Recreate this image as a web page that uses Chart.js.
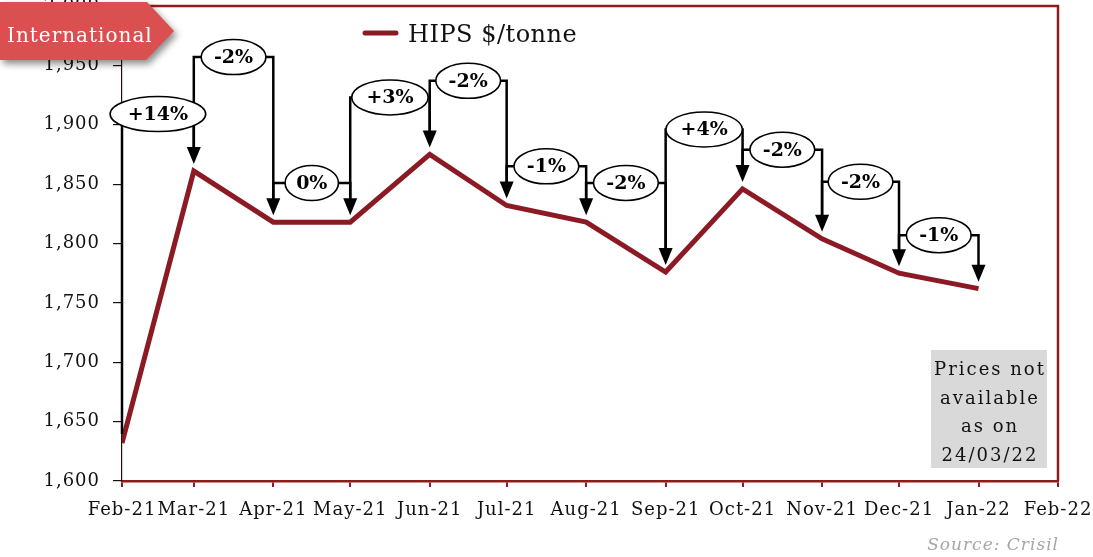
<!DOCTYPE html>
<html>
<head>
<meta charset="utf-8">
<title>HIPS $/tonne</title>
<script src="https://cdn.jsdelivr.net/npm/chart.js@4.4.1/dist/chart.umd.min.js"></script>
<style>
  html, body { margin: 0; padding: 0; background: #ffffff; }
  #c { display: block; }
</style>
</head>
<body>
<canvas id="c" width="1093" height="557"></canvas>
<script>
// ---- data ----
const tickMonths = ['2021-02', '2021-03', '2021-04', '2021-05', '2021-06', '2021-07', '2021-08',
                    '2021-09', '2021-10', '2021-11', '2021-12', '2022-01', '2022-02'];
const tickLabels = ['Feb-21', 'Mar-21', 'Apr-21', 'May-21', 'Jun-21', 'Jul-21', 'Aug-21',
                    'Sep-21', 'Oct-21', 'Nov-21', 'Dec-21', 'Jan-22', 'Feb-22'];
const priceMonths = ['2021-02', '2021-03', '2021-04', '2021-05', '2021-06', '2021-07',
                     '2021-08', '2021-09', '2021-10', '2021-11', '2021-12', '2022-01'];
const hipsPrices = [1632, 1861, 1818, 1818, 1875, 1832, 1818, 1776, 1846, 1804, 1775, 1762];
// price level at which each month-on-month change callout sits
const calloutLevels = [1909, 1957, 1851, 1923, 1937, 1865, 1851, 1896, 1879, 1852, 1807];
const seriesName = 'HIPS $/tonne';
const regionTag = 'International';
const noteLines = ['Prices not', 'available', 'as on', '24/03/22'];
const sourceText = 'Source: Crisil';

// ---- helpers ----
const SERIF = '"DejaVu Serif", "Liberation Serif", serif';
const LINE_RED = '#8B1A24';
const FRAME_RED = '#8E1C1C';

function dayOffset(key) {
  const [y, m] = key.split('-').map(Number);
  return (Date.UTC(y, m - 1, 1) - Date.UTC(2021, 1, 1)) / 86400000;
}
const tickValues = tickMonths.map(dayOffset);
const points = priceMonths.map((k, i) => ({ x: dayOffset(k), y: hipsPrices[i] }));

function pctLabel(a, b) {
  const p = Math.round((b - a) / a * 100) || 0;
  return (p > 0 ? '+' : '') + p + '%';
}
function thousands(v) {
  return String(v).replace(/\B(?=(\d{3})+(?!\d))/g, ',');
}

// ---- plugins ----
const spacingPlugin = {
  id: 'spacing',
  beforeDraw(chart) { chart.ctx.letterSpacing = '1px'; }
};

const framePlugin = {
  id: 'frame',
  afterDatasetsDraw(chart) {
    const { ctx, chartArea: a } = chart;
    ctx.save();
    ctx.strokeStyle = FRAME_RED;
    ctx.lineWidth = 2.5;
    ctx.beginPath();
    ctx.moveTo(a.left, a.top);
    ctx.lineTo(a.right, a.top);
    ctx.lineTo(a.right, a.bottom);
    ctx.stroke();
    ctx.restore();
  }
};

const changePlugin = {
  id: 'changes',
  afterDatasetsDraw(chart) {
    const { ctx } = chart;
    const xs = chart.scales.x, ys = chart.scales.y;
    const headH = 17, headW = 7, tipGap = 7;
    ctx.save();
    ctx.letterSpacing = '0px';
    ctx.strokeStyle = '#000';
    ctx.fillStyle = '#000';
    ctx.lineWidth = 2.5;
    ctx.lineCap = 'butt';
    const shapes = [];
    for (let i = 0; i < points.length - 1; i++) {
      const x0 = xs.getPixelForValue(points[i].x);
      const x1 = xs.getPixelForValue(points[i + 1].x);
      const y0 = ys.getPixelForValue(points[i].y);
      const y1 = ys.getPixelForValue(points[i + 1].y);
      const yb = ys.getPixelForValue(calloutLevels[i]);
      const tip = y1 - tipGap;
      ctx.beginPath();
      ctx.moveTo(x0, i === 0 ? y0 - 9 : y0 - tipGap - headH + 2);
      ctx.lineTo(x0, yb);
      ctx.lineTo(x1, yb);
      ctx.lineTo(x1, tip - headH + 2);
      ctx.stroke();
      ctx.beginPath();
      ctx.moveTo(x1 - headW, tip - headH);
      ctx.lineTo(x1 + headW, tip - headH);
      ctx.lineTo(x1, tip);
      ctx.closePath();
      ctx.fill();
      shapes.push({ cx: (x0 + x1) / 2, cy: yb, text: pctLabel(hipsPrices[i], hipsPrices[i + 1]) });
    }
    ctx.font = 'bold 19px ' + SERIF;
    ctx.textAlign = 'center';
    ctx.textBaseline = 'middle';
    shapes.forEach(s => {
      const w = ctx.measureText(s.text).width * 1.45 + 8;
      ctx.beginPath();
      ctx.ellipse(s.cx, s.cy, w / 2, 17.5, 0, 0, Math.PI * 2);
      ctx.fillStyle = '#fff';
      ctx.fill();
      ctx.lineWidth = 1.6;
      ctx.strokeStyle = '#000';
      ctx.stroke();
      ctx.fillStyle = '#000';
      ctx.fillText(s.text, s.cx, s.cy + 1);
    });
    ctx.restore();
  }
};

const overlayPlugin = {
  id: 'overlay',
  afterDraw(chart) {
    const { ctx } = chart;
    ctx.save();

    // legend
    ctx.strokeStyle = LINE_RED;
    ctx.lineWidth = 5;
    ctx.lineCap = 'round';
    ctx.beginPath();
    ctx.moveTo(365, 33);
    ctx.lineTo(396, 33);
    ctx.stroke();
    ctx.letterSpacing = '0.5px';
    ctx.font = '24px ' + SERIF;
    ctx.fillStyle = '#111';
    ctx.textAlign = 'left';
    ctx.textBaseline = 'alphabetic';
    ctx.fillText(seriesName, 408, 42);

    // note box
    ctx.fillStyle = '#D9D9D9';
    ctx.fillRect(931, 350, 116, 118);
    ctx.fillStyle = '#111';
    ctx.font = '18px ' + SERIF;
    ctx.letterSpacing = '2px';
    ctx.textAlign = 'center';
    noteLines.forEach((t, i) => ctx.fillText(t, 990, 375 + i * 28.5));

    // source
    ctx.font = 'italic 17px ' + SERIF;
    ctx.letterSpacing = '1px';
    ctx.fillStyle = '#A6A6A6';
    ctx.textAlign = 'right';
    ctx.fillText(sourceText, 1059, 550);

    // region tag
    ctx.save();
    ctx.shadowColor = 'rgba(0,0,0,0.45)';
    ctx.shadowBlur = 7;
    ctx.shadowOffsetX = 3;
    ctx.shadowOffsetY = 4;
    ctx.fillStyle = '#DA4F4F';
    ctx.beginPath();
    ctx.moveTo(0, 2);
    ctx.lineTo(147, 2);
    ctx.lineTo(174, 31);
    ctx.lineTo(146, 60);
    ctx.lineTo(0, 60);
    ctx.closePath();
    ctx.fill();
    ctx.restore();
    ctx.fillStyle = '#ffffff';
    ctx.font = '20px ' + SERIF;
    ctx.letterSpacing = '1px';
    ctx.textAlign = 'left';
    ctx.fillText(regionTag, 7, 42);

    ctx.restore();
  }
};

// ---- chart ----
new Chart(document.getElementById('c'), {
  type: 'line',
  data: {
    datasets: [{
      label: seriesName,
      data: points,
      borderColor: LINE_RED,
      borderWidth: 5,
      pointRadius: 0,
      tension: 0,
      fill: false,
      borderJoinStyle: 'miter'
    }]
  },
  options: {
    responsive: false,
    animation: false,
    events: [],
    layout: { padding: { top: 6, right: 35, left: 0, bottom: 0 } },
    plugins: { legend: { display: false }, tooltip: { enabled: false } },
    scales: {
      x: {
        type: 'linear',
        min: tickValues[0],
        max: tickValues[tickValues.length - 1],
        afterBuildTicks(scale) { scale.ticks = tickValues.map(v => ({ value: v })); },
        afterFit(scale) { scale.height = 76; scale.paddingLeft = 0; scale.paddingRight = 0; },
        ticks: {
          autoSkip: false,
          maxRotation: 0,
          minRotation: 0,
          padding: 13,
          color: '#111',
          font: { family: SERIF, size: 18 },
          callback(value) { const i = tickValues.indexOf(value); return i >= 0 ? tickLabels[i] : ''; }
        },
        grid: { drawOnChartArea: false, drawTicks: true, tickLength: 6, color: FRAME_RED, lineWidth: 2 },
        border: { display: true, color: FRAME_RED, width: 2.5 }
      },
      y: {
        min: 1600,
        max: 2000,
        afterFit(scale) { scale.width = 122; scale.paddingTop = 0; scale.paddingBottom = 0; },
        ticks: {
          stepSize: 50,
          padding: 13,
          color: '#111',
          font: { family: SERIF, size: 18 },
          callback: v => thousands(v)
        },
        grid: { drawOnChartArea: false, drawTicks: true, tickLength: 9, color: '#111', lineWidth: 1.2 },
        border: { display: true, color: '#2a0c0c', width: 1.2 }
      }
    }
  },
  plugins: [spacingPlugin, framePlugin, changePlugin, overlayPlugin]
});
</script>
</body>
</html>
